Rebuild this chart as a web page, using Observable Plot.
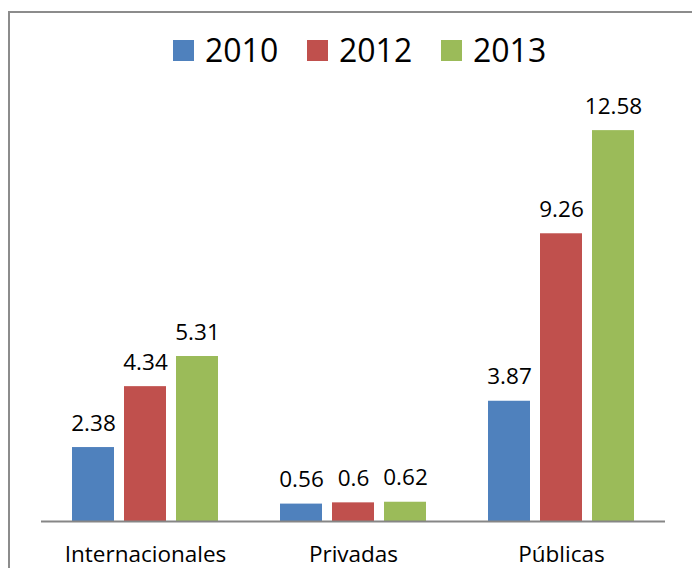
<!DOCTYPE html>
<html>
<head>
<meta charset="utf-8">
<script src="https://cdn.jsdelivr.net/npm/d3@7"></script>
<script src="https://cdn.jsdelivr.net/npm/@observablehq/plot@0.6"></script>
<style>
  html, body { margin: 0; padding: 0; background: #fff; }
  #wrap { position: relative; width: 692px; height: 568px; overflow: hidden; font-family: "Open Sans", sans-serif; }
  #frame { position: absolute; left: 8px; top: 11px; width: 800px; height: 700px; border-left: 2px solid #8c8c8c; border-top: 2px solid #8c8c8c; pointer-events: none; }
  #legend { height: 80px; position: relative; }
  .item { position: absolute; top: 28px; display: flex; align-items: center; font-size: 32px; color: #000; line-height: 44px; }
  .sw { width: 21px; height: 21px; margin-right: 11px; display: inline-block; }
  #chart svg { display: block; }
</style>
</head>
<body>
<div id="wrap">
  <div id="legend"></div>
  <div id="chart"></div>
  <div id="frame"></div>
</div>
<script>
const categories = ["Internacionales", "Privadas", "Públicas"];
const years = ["2010", "2012", "2013"];
const values2010 = [2.38, 0.56, 3.87];
const values2012 = [4.34, 0.6, 9.26];
const values2013 = [5.31, 0.62, 12.58];
const colors = ["#4F81BD", "#C0504D", "#9BBB59"];
const legendLeft = [173, 307, 441];

const series = [values2010, values2012, values2013];
const data = [];
categories.forEach((c, i) => {
  years.forEach((y, j) => {
    data.push({category: c, year: y, value: series[j][i]});
  });
});

// legend
const legend = document.getElementById("legend");
years.forEach((y, j) => {
  const it = document.createElement("div");
  it.className = "item";
  it.style.left = legendLeft[j] + "px";
  const sw = document.createElement("span");
  sw.className = "sw";
  sw.style.background = colors[j];
  const tx = document.createElement("span");
  tx.textContent = y;
  it.appendChild(sw);
  it.appendChild(tx);
  legend.appendChild(it);
});

const chart = Plot.plot({
  width: 692,
  height: 488,
  marginLeft: 40,
  marginRight: 27,
  marginTop: 6,
  marginBottom: 47,
  style: {fontFamily: "Open Sans, sans-serif", color: "#000", background: "transparent"},
  fx: {domain: categories, padding: 0, label: null},
  x: {domain: years, paddingInner: 0.192, paddingOuter: 0.596, axis: null},
  y: {domain: [0, 14], axis: null},
  color: {domain: years, range: colors},
  marks: [
    Plot.barY(data, {fx: "category", x: "year", y: "value", fill: "year"}),
    Plot.text(data, {fx: "category", x: "year", y: "value", text: d => String(d.value), lineAnchor: "bottom", dy: -17, fontSize: 22.5, fill: "#000"}),
    Plot.ruleY([0], {stroke: "#868686", strokeWidth: 2}),
    Plot.axisFx({tickSize: 0, tickPadding: 25, fontSize: 22.5, label: null, anchor: "bottom"})
  ]
});
document.getElementById("chart").appendChild(chart);
</script>
</body>
</html>
